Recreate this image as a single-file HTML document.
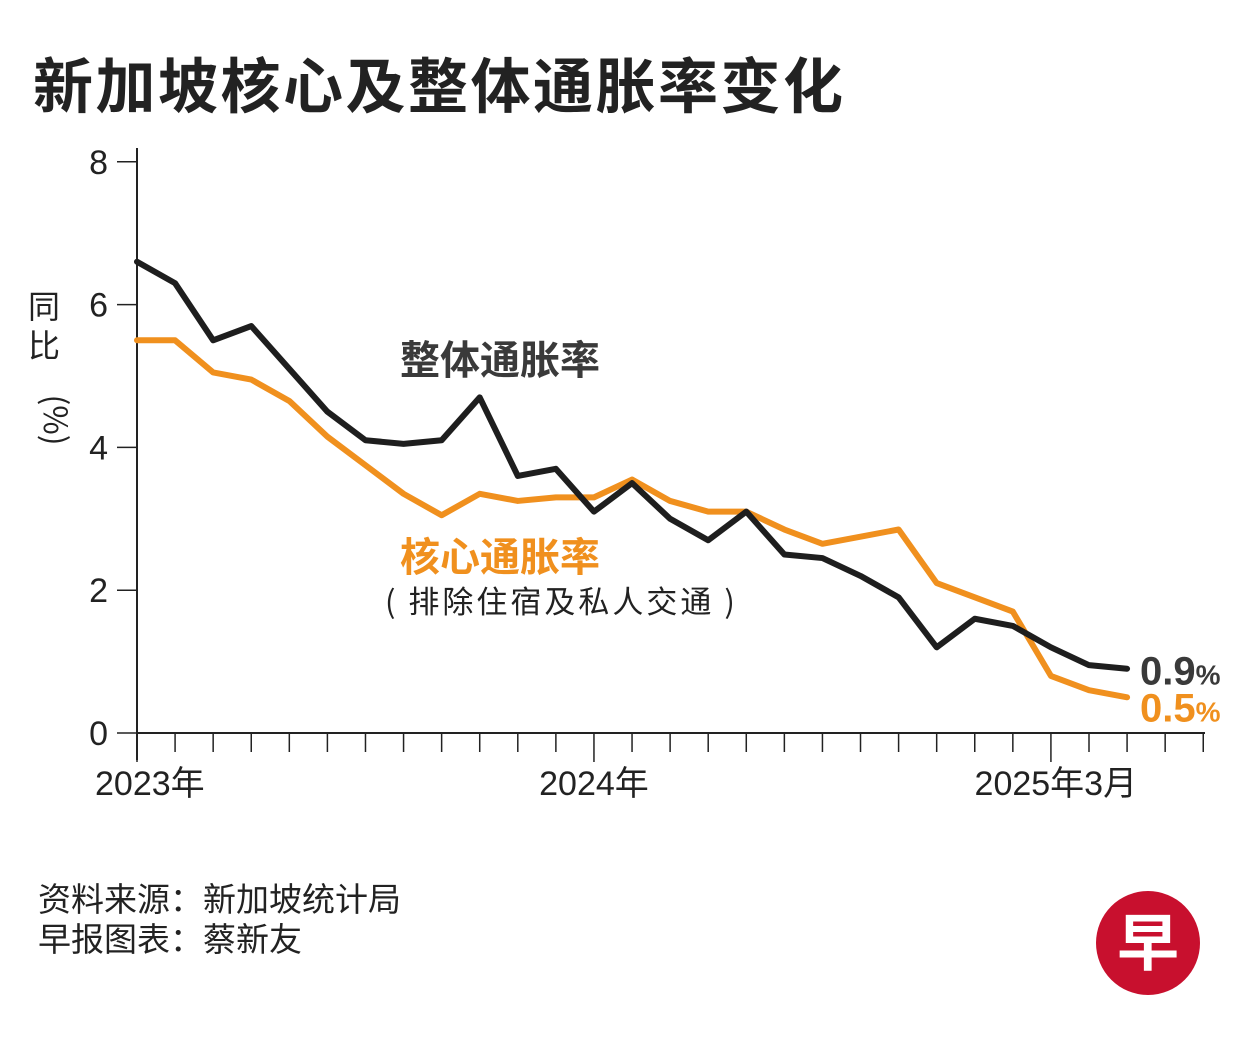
<!DOCTYPE html>
<html><head><meta charset="utf-8">
<style>
body{margin:0;background:#fff;width:1251px;height:1054px;overflow:hidden;font-family:"Liberation Sans","Noto Sans CJK SC",sans-serif;}
svg{display:block}
</style></head>
<body>
<svg id="chart" width="1251" height="1054" xmlns="http://www.w3.org/2000/svg">
<text x="33" y="108" font-size="60" letter-spacing="2.5" font-weight="bold" fill="#222" font-family="'Noto Sans CJK SC',sans-serif">新加坡核心及整体通胀率变化</text>
<g id="axes"></g>
<g id="series"></g>
<text font-size="32" fill="#222" font-family="'Noto Sans CJK SC',sans-serif">
<tspan x="28" y="318">同</tspan><tspan x="28" y="357">比</tspan></text>
<text font-size="32" fill="#222" font-family="'Noto Sans CJK SC',sans-serif" transform="translate(44,420) rotate(90)" text-anchor="middle">(%)</text>
<text x="400" y="374" font-size="40" font-weight="bold" fill="#3a3a3a" font-family="'Noto Sans CJK SC',sans-serif">整体通胀率</text>
<text x="400" y="571" font-size="40" font-weight="bold" fill="#f0901e" font-family="'Noto Sans CJK SC',sans-serif">核心通胀率</text>
<text x="385" y="613" font-size="31" letter-spacing="3" fill="#222" font-family="'Noto Sans CJK SC',sans-serif">( 排除住宿及私人交通 )</text>
<text x="38" y="911" font-size="33" fill="#222" font-family="'Noto Sans CJK SC',sans-serif">资料来源：新加坡统计局</text>
<text x="38" y="951" font-size="33" fill="#222" font-family="'Noto Sans CJK SC',sans-serif">早报图表：蔡新友</text>
<g>
<circle cx="1148" cy="943" r="52" fill="#c8102e"/>
<text x="1148" y="965" font-size="62" font-weight="bold" fill="#fff" text-anchor="middle" font-family="'Noto Sans CJK SC',sans-serif">早</text>
</g>
</svg>
<script>
const categories=["2023-01","2023-02","2023-03","2023-04","2023-05","2023-06","2023-07","2023-08","2023-09","2023-10","2023-11","2023-12","2024-01","2024-02","2024-03","2024-04","2024-05","2024-06","2024-07","2024-08","2024-09","2024-10","2024-11","2024-12","2025-01","2025-02","2025-03"];
const headline=[6.6,6.3,5.5,5.7,5.1,4.5,4.1,4.05,4.1,4.7,3.6,3.7,3.1,3.5,3.0,2.7,3.1,2.5,2.45,2.2,1.9,1.2,1.6,1.5,1.2,0.95,0.9];
const core=[5.5,5.5,5.05,4.95,4.65,4.15,3.75,3.35,3.05,3.35,3.25,3.3,3.3,3.55,3.25,3.1,3.1,2.85,2.65,2.75,2.85,2.1,1.9,1.7,0.8,0.6,0.5];
const yTicks=[0,2,4,6,8];
const xLabels=[{i:0,t:"2023年",a:"start",dx:-42},{i:12,t:"2024年",a:"middle",dx:0},{i:26,t:"2025年3月",a:"end",dx:10}];
const endLabels=["0.9","0.5"];
const NS="http://www.w3.org/2000/svg";
const x=i=>137+i*38.08;
const y=v=>733-v*71.4;
function mk(tag,attrs,parent){const e=document.createElementNS(NS,tag);for(const k in attrs)e.setAttribute(k,attrs[k]);parent.appendChild(e);return e;}
const ax=document.getElementById('axes');
const yAxis=mk('line',{x1:137,y1:148,x2:137,y2:760,stroke:'#222','stroke-width':2},ax);


const xAxis=mk('line',{x1:137,y1:733,x2:1205,y2:733,stroke:'#222','stroke-width':2},ax);


yTicks.forEach(v=>{
  const tk=mk('line',{x1:117,y1:y(v),x2:137,y2:y(v),stroke:'#222','stroke-width':1.5},ax);
  
  
  const t=mk('text',{x:108,y:y(v)+12,'font-size':34,fill:'#222','text-anchor':'end'},ax);
  t.textContent=v;
  
  
});
for(let i=0;i<=28;i++){
  const tk=mk('line',{x1:x(i),y1:733,x2:x(i),y2:i%12===0?762:752,stroke:'#222','stroke-width':1.5},ax);
  
  
}
xLabels.forEach(l=>{
  const t=mk('text',{x:x(l.i)+l.dx,y:795,'font-size':34,fill:'#222','text-anchor':l.a,'font-family':"'Liberation Sans','Noto Sans CJK SC',sans-serif"},ax);
  t.textContent=l.t;
  
  
});
const sg=document.getElementById('series');
function line(data,color,name){
  const p=mk('polyline',{points:data.map((v,i)=>x(i)+','+y(v)).join(' '),fill:'none',stroke:color,'stroke-width':6,'stroke-linejoin':'round','stroke-linecap':'round'},sg);
  
  
}
line(core,'#f0901e','core-inflation-line');
line(headline,'#1e1e1e','headline-inflation-line');
const e1=mk('text',{x:1140,y:y(headline[headline.length-1])+16,'font-size':40,'font-weight':'bold',fill:'#3a3a3a'},sg);
e1.innerHTML=endLabels[0]+'<tspan font-size="28">%</tspan>';


const e2=mk('text',{x:1140,y:y(core[core.length-1])+24,'font-size':40,'font-weight':'bold',fill:'#f0901e'},sg);
e2.innerHTML=endLabels[1]+'<tspan font-size="28">%</tspan>';


</script>
</body></html>
